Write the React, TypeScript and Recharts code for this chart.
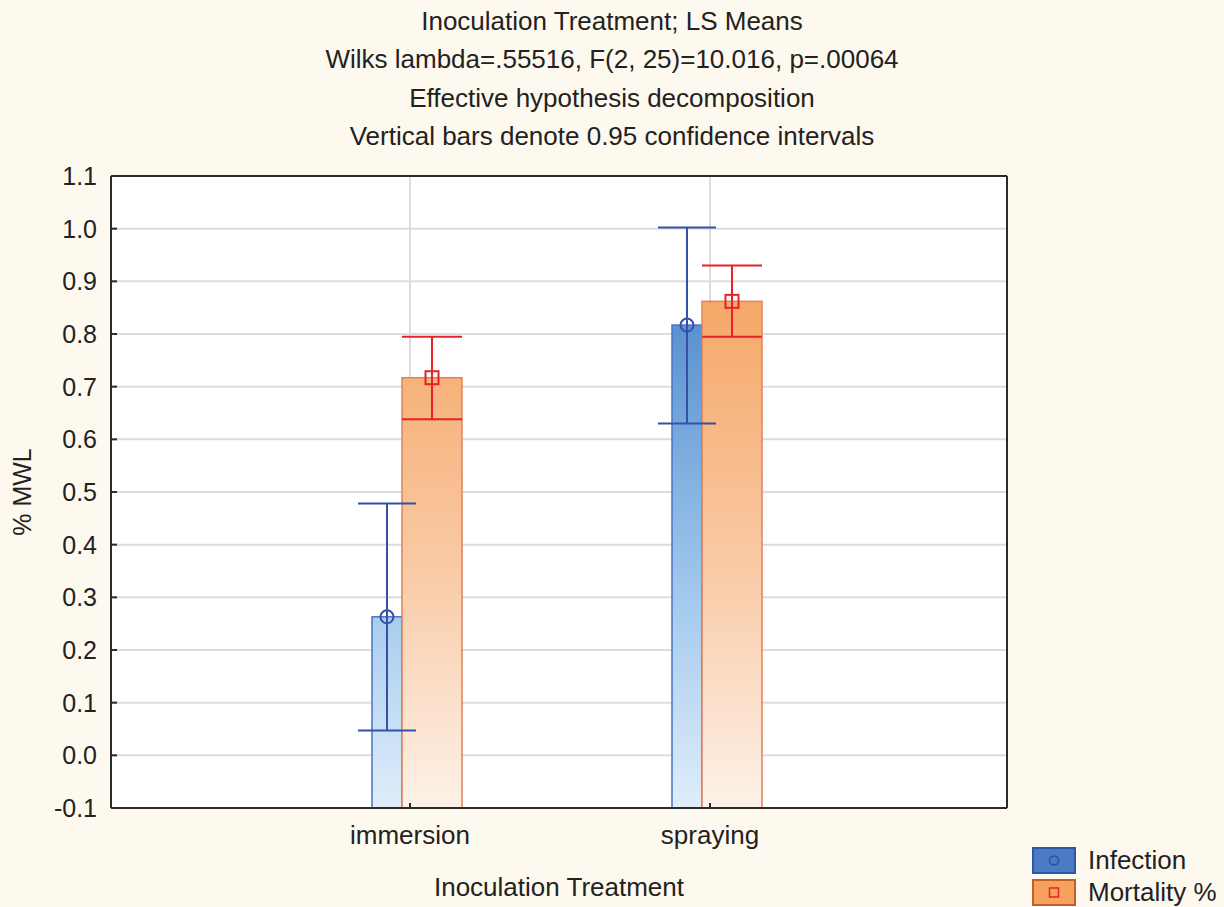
import React from 'react';
import { ComposedChart, Bar, ErrorBar, XAxis, YAxis, CartesianGrid, Label } from 'recharts';

// LS means with 0.95 confidence limits per inoculation treatment
const treatments = ['immersion', 'spraying'];
const infectionMeans = [0.263, 0.817];
const infectionLower = [0.047, 0.630];
const infectionUpper = [0.478, 1.002];
const mortalityMeans = [0.717, 0.862];
const mortalityLower = [0.638, 0.795];
const mortalityUpper = [0.795, 0.930];
const yTicks = [-0.1, 0, 0.1, 0.2, 0.3, 0.4, 0.5, 0.6, 0.7, 0.8, 0.9, 1.0, 1.1];

const titleLines = [
  'Inoculation Treatment; LS Means',
  'Wilks lambda=.55516, F(2, 25)=10.016, p=.00064',
  'Effective hypothesis decomposition',
  'Vertical bars denote 0.95 confidence intervals',
];

const legendItems = [
  { name: 'Infection', fill: '#4a7cc4', border: '#2f55a8', marker: 'circle' },
  { name: 'Mortality %', fill: '#f7a25c', border: '#c0602a', marker: 'square' },
];

const W = 1224;
const H = 907;
const MARGIN = { top: 175, right: 216, bottom: 0, left: 0 };
const PLOT_TOP = 176;
const PLOT_BOTTOM = 808;

const FONT = '"Liberation Sans", Arial, sans-serif';
const TEXT = '#222';
const AXIS = '#2b2b2b';
const BLUE_LINE = '#3550a8';
const RED_LINE = '#e8202a';

const chartData = treatments.map((t, i) => ({
  treatment: t,
  infection: infectionMeans[i],
  infectionErr: [infectionMeans[i] - infectionLower[i], infectionUpper[i] - infectionMeans[i]],
  mortality: mortalityMeans[i],
  mortalityErr: [mortalityMeans[i] - mortalityLower[i], mortalityUpper[i] - mortalityMeans[i]],
}));

// bars run down to the bottom of the plot (-0.1), not to zero
const barBottom = (p: any) =>
  p.background ? p.background.y + p.background.height : PLOT_BOTTOM;

const InfectionShape = (p: any) => {
  const bottom = barBottom(p);
  return (
    <g>
      <rect x={p.x} y={p.y} width={p.width} height={bottom - p.y}
        fill="url(#blueGrad)" stroke="#4a74c4" strokeWidth={1.5} />
      <circle cx={p.x + p.width / 2} cy={p.y} r={6.5} fill="none" stroke={BLUE_LINE} strokeWidth={2} />
    </g>
  );
};

const MortalityShape = (p: any) => {
  const bottom = barBottom(p);
  const cx = p.x + p.width / 2;
  return (
    <g>
      <rect x={p.x} y={p.y} width={p.width} height={bottom - p.y}
        fill="url(#orangeGrad)" stroke="#e0835a" strokeWidth={1.5} />
      <rect x={cx - 6.5} y={p.y - 6.5} width={13} height={13} fill="none" stroke={RED_LINE} strokeWidth={2} />
    </g>
  );
};

const LegendBox = () => (
  <div style={{ position: 'absolute', left: 1032, top: 844, fontFamily: FONT, fontSize: 26, color: TEXT }}>
    {legendItems.map((it) => (
      <div key={it.name} style={{ display: 'flex', alignItems: 'center', height: 32, whiteSpace: 'nowrap' }}>
        <svg width={44} height={27} style={{ marginRight: 12 }}>
          <rect x={1} y={1} width={42} height={25} fill={it.fill} stroke={it.border} strokeWidth={2} />
          {it.marker === 'circle' ? (
            <circle cx={22} cy={13.5} r={4.5} fill="none" stroke="#2f4fa0" strokeWidth={1.5} />
          ) : (
            <rect x={17.5} y={9} width={9} height={9} fill="none" stroke={RED_LINE} strokeWidth={1.5} />
          )}
        </svg>
        <span style={{ lineHeight: '26px' }}>{it.name}</span>
      </div>
    ))}
  </div>
);

const App: React.FC = () => {
  return (
    <div style={{ position: 'absolute', left: 0, top: 0, width: W, height: H, background: '#fef9ee', overflow: 'hidden' }}>
      <div style={{ position: 'absolute', left: 0, top: 2, width: W, textAlign: 'center', fontFamily: FONT, fontSize: 26, color: TEXT, lineHeight: '38.3px' }}>
        {titleLines.map((l) => (
          <div key={l}>{l}</div>
        ))}
      </div>
      <ComposedChart
        width={W}
        height={H}
        data={chartData}
        margin={MARGIN}
        barGap={0}
        style={{ position: 'absolute', left: 0, top: 0 }}
      >
        <defs>
          <linearGradient id="blueGrad" gradientUnits="userSpaceOnUse" x1={0} y1={PLOT_TOP} x2={0} y2={PLOT_BOTTOM}>
            <stop offset="0" stopColor="#3a74c2" />
            <stop offset="0.236" stopColor="#5a92d0" />
            <stop offset="0.7" stopColor="#a9cdef" />
            <stop offset="1" stopColor="#e0edfa" />
          </linearGradient>
          <linearGradient id="orangeGrad" gradientUnits="userSpaceOnUse" x1={0} y1={PLOT_TOP} x2={0} y2={PLOT_BOTTOM}>
            <stop offset="0" stopColor="#f49c55" />
            <stop offset="0.2" stopColor="#f5a868" />
            <stop offset="0.6" stopColor="#f9c8a2" />
            <stop offset="1" stopColor="#fdf1e8" />
          </linearGradient>
        </defs>
        <CartesianGrid stroke="#dcdcdc" strokeWidth={2} fill="#ffffff" />
        <XAxis
          dataKey="treatment"
          type="category"
          height={99}
          padding={{ left: 149, right: 147 }}
          axisLine={{ stroke: AXIS, strokeWidth: 2 }}
          tickLine={{ stroke: AXIS, strokeWidth: 2 }}
          tickSize={-5}
          tickMargin={23}
          tick={{ fill: TEXT, fontSize: 26, fontFamily: FONT }}
        >
          <Label
            content={(props: any) => {
              const vb = props.viewBox;
              return (
                <text x={vb.x + vb.width / 2} y={887} textAnchor="middle" dominantBaseline="central"
                  fill={TEXT} fontSize={26} fontFamily={FONT}>
                  Inoculation Treatment
                </text>
              );
            }}
          />
        </XAxis>
        <XAxis xAxisId="top" orientation="top" dataKey="treatment" height={1} tick={false} tickLine={false}
          axisLine={{ stroke: AXIS, strokeWidth: 2 }} padding={{ left: 149, right: 147 }} />
        <YAxis
          domain={[-0.1, 1.1]}
          ticks={yTicks}
          type="number"
          width={111}
          interval={0}
          allowDataOverflow
          tickFormatter={(v: number) => v.toFixed(1)}
          axisLine={{ stroke: AXIS, strokeWidth: 2 }}
          tickLine={{ stroke: AXIS, strokeWidth: 2 }}
          tickSize={-6}
          tickMargin={20}
          tick={{ fill: TEXT, fontSize: 25, fontFamily: FONT }}
        >
          <Label
            content={(props: any) => {
              const vb = props.viewBox;
              const cy = vb.y + vb.height / 2;
              return (
                <text x={22} y={cy} textAnchor="middle" dominantBaseline="central"
                  transform={`rotate(-90, 22, ${cy})`} fill={TEXT} fontSize={25} fontFamily={FONT}>
                  % MWL
                </text>
              );
            }}
          />
        </YAxis>
        <YAxis yAxisId="right" orientation="right" width={1} domain={[-0.1, 1.1]} tick={false} tickLine={false}
          axisLine={{ stroke: AXIS, strokeWidth: 2 }} />
        {/* empty slot so the bar pair sits where it does relative to the tick */}
        <Bar dataKey="spacer" barSize={14} legendType="none" isAnimationActive={false} />
        <Bar dataKey="infection" barSize={30} shape={InfectionShape} isAnimationActive={false}>
          <ErrorBar dataKey="infectionErr" width={29} stroke={BLUE_LINE} strokeWidth={2} direction="y" isAnimationActive={false} />
        </Bar>
        <Bar dataKey="mortality" barSize={60} shape={MortalityShape} isAnimationActive={false}>
          <ErrorBar dataKey="mortalityErr" width={30} stroke={RED_LINE} strokeWidth={2} direction="y" isAnimationActive={false} />
        </Bar>
      </ComposedChart>
      <LegendBox />
    </div>
  );
};

export default App;
